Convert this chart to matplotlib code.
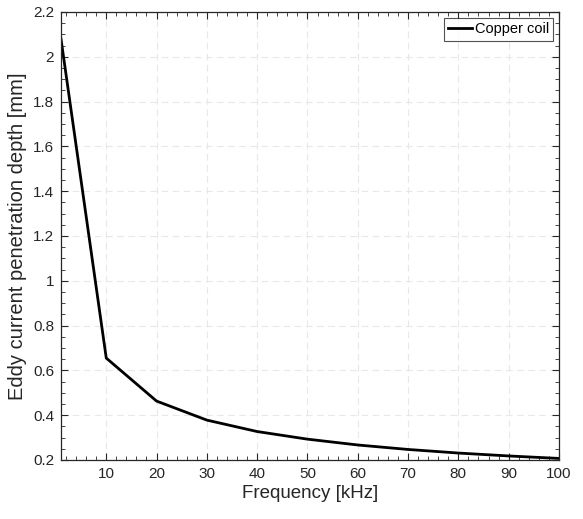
import numpy as np
import matplotlib.pyplot as plt
from matplotlib.ticker import MultipleLocator

# skin depth of copper
freq_khz = [1, 10, 20, 30, 40, 50, 60, 70, 80, 90, 100]
depth_mm = [2.08, 0.655, 0.463, 0.378, 0.327, 0.293, 0.267, 0.247, 0.231, 0.218, 0.207]
ytick_labels = ["0.2", "0.4", "0.6", "0.8", "1", "1.2", "1.4", "1.6", "1.8", "2", "2.2"]

plt.rcParams["font.family"] = ["Liberation Sans", "DejaVu Sans"]

fig = plt.figure(figsize=(5.83, 5.19), dpi=100)
ax = fig.add_axes([0.1046, 0.1137, 0.8542, 0.8632])

ax.plot(freq_khz, depth_mm, color="black", linewidth=2.0, label="Copper coil")

ax.set_xlim(1, 100)
ax.set_ylim(0.2, 2.2)
ax.set_xticks(np.arange(10, 101, 10))
ax.set_yticks(np.arange(0.2, 2.21, 0.2))
ax.set_yticklabels(ytick_labels)
ax.xaxis.set_minor_locator(MultipleLocator(2))
ax.yaxis.set_minor_locator(MultipleLocator(0.05))
ax.tick_params(which="both", direction="in", top=True, right=True, labelsize=11, colors="#262626")
ax.tick_params(which="major", length=5, width=0.8, pad=5)
ax.tick_params(which="minor", length=3, width=0.6)
ax.grid(True, which="major", linestyle=(0, (6, 4)), color="#e8e8e8", linewidth=0.8)
for s in ax.spines.values():
    s.set_linewidth(0.9)
    s.set_color("#262626")

ax.set_xlabel("Frequency [kHz]", fontsize=13.5, color="#262626", labelpad=3)
ax.set_ylabel("Eddy current penetration depth [mm]", fontsize=14.5, color="#262626", labelpad=4)

leg = ax.legend(loc="upper right", fontsize=10.5, fancybox=False, handlelength=1.6,
                handletextpad=0.2, borderpad=0.3, borderaxespad=0.4)
leg.get_frame().set_edgecolor("#262626")
leg.get_frame().set_linewidth(0.8)

fig.savefig("out.png", dpi=100)
